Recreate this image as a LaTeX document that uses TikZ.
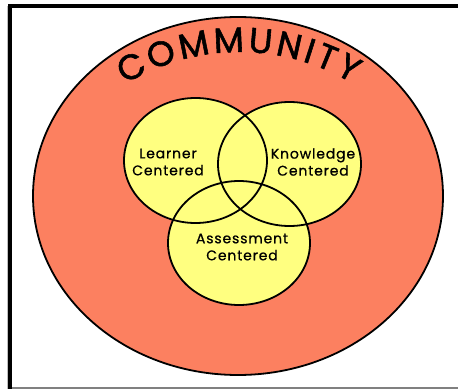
\documentclass[tikz,border=0pt]{standalone}
\usepackage{fontspec}
\setmainfont{Poppins}
\newfontfamily\titlefont{Poppins}[FakeBold=1.6]
\newfontfamily\labelfont{Poppins}[FakeBold=0.7,LetterSpace=6]
\usetikzlibrary{decorations.text,shapes.geometric}
\definecolor{salmon}{RGB}{252,128,96}
\definecolor{pale}{RGB}{255,255,128}
\tikzset{
  ring/.style={draw=black, line width=1.8pt},
  lbl/.style={align=center, font=\labelfont\fontsize{14}{17}\selectfont, inner sep=0pt},
}
\begin{document}
\begin{tikzpicture}[x=1pt,y=1pt]
\useasboundingbox (0,0) rectangle (458,389);
\fill[white] (0,0) rectangle (458,389);
% frame
\fill[black] (8,389-8) rectangle (458,389-4);
\fill[black] (8,0) rectangle (12,389-4);
\fill[gray!50] (6.5,0) rectangle (8,389-6);
\fill[gray] (12,0) rectangle (458,2);
% community
\node[ellipse, ring, fill=salmon, minimum width=410pt, minimum height=358pt, inner sep=0pt] (comm) at (238,389-196) {};
% circles: fill first
\fill[pale] (195.5,389-160.5) ellipse [x radius=71.5, y radius=62.5];
\fill[pale] (289.5,389-164) ellipse [x radius=71.5, y radius=62];
\fill[pale] (239,389-243) ellipse [x radius=71, y radius=62];
\draw[ring] (195.5,389-160.5) ellipse [x radius=71.5, y radius=62.5];
\draw[ring] (289.5,389-164) ellipse [x radius=71.5, y radius=62];
\draw[ring] (239,389-243) ellipse [x radius=71, y radius=62];
\node[lbl] (learner) at (168,389-162) {Learner\\Centered};
\node[lbl] (knowledge) at (313,389-162) {Knowledge\\Centered};
\node[lbl] (assess) at (242,389-247) {Assessment\\Centered};
% curved title
\path[decorate, decoration={text along path, text align=fit to path,
  text={|\titlefont\fontsize{35}{37}\selectfont|COMMUNITY}}]
  (239.5,118) ++(121.5:218.9) arc[start angle=121.5, end angle=59, radius=218.9];
\end{tikzpicture}
\end{document}
